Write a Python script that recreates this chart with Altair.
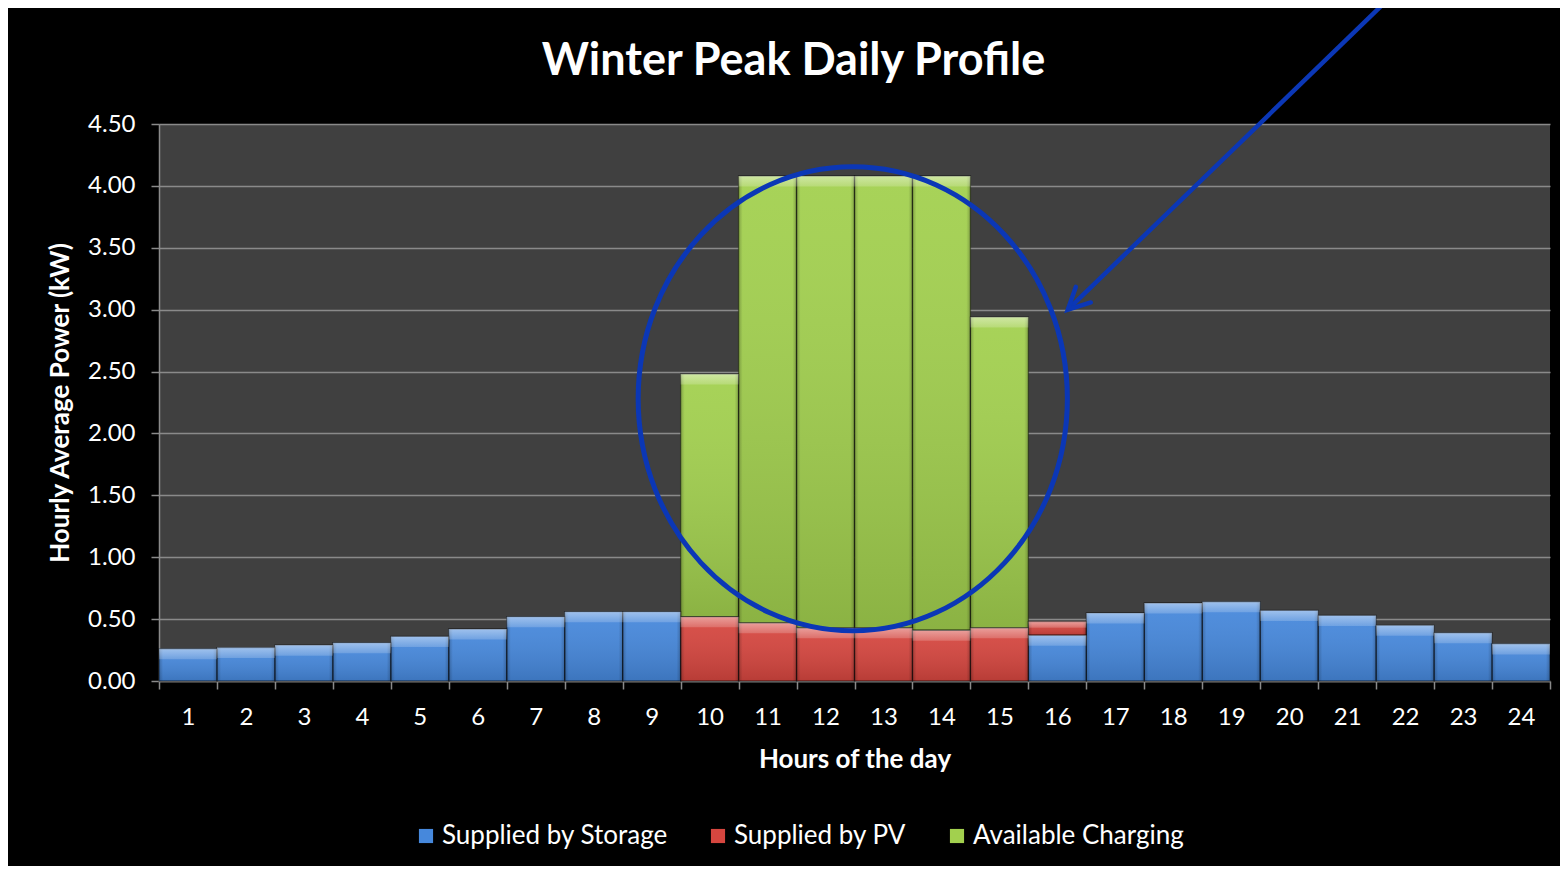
import altair as alt
import pandas as pd

# ---------------- data ----------------
hours = [1, 2, 3, 4, 5, 6, 7, 8, 9, 10, 11, 12,
         13, 14, 15, 16, 17, 18, 19, 20, 21, 22, 23, 24]
storage = [0.26, 0.27, 0.29, 0.31, 0.36, 0.42, 0.52, 0.56, 0.56, 0.00, 0.00, 0.00,
           0.00, 0.00, 0.00, 0.37, 0.55, 0.63, 0.64, 0.57, 0.53, 0.45, 0.39, 0.30]
pv = [0.00, 0.00, 0.00, 0.00, 0.00, 0.00, 0.00, 0.00, 0.00, 0.52, 0.47, 0.43,
      0.43, 0.41, 0.43, 0.11, 0.00, 0.00, 0.00, 0.00, 0.00, 0.00, 0.00, 0.00]
charging = [0.00, 0.00, 0.00, 0.00, 0.00, 0.00, 0.00, 0.00, 0.00, 1.96, 3.61, 3.65,
            3.65, 3.67, 2.51, 0.00, 0.00, 0.00, 0.00, 0.00, 0.00, 0.00, 0.00, 0.00]
series = ["Supplied by Storage", "Supplied by PV", "Available Charging"]
series_colors = ["#4688dc", "#d6463f", "#a2d04e"]
y_ticks = [0.0, 0.5, 1.0, 1.5, 2.0, 2.5, 3.0, 3.5, 4.0, 4.5]

# annotation (blue ellipse and arrow), in data units (hour, kW)
circle_hour = [12.47]
circle_kw = [2.28]
arrow_from_hour = [21.69]
arrow_from_kw = [5.50]
arrow_to_hour = [16.18]
arrow_to_kw = [3.00]

FONT = "Lato"
ANNOT = "#0b37b6"
GRID = "#8a8a8a"

df = pd.DataFrame({"hour": hours, series[0]: storage, series[1]: pv, series[2]: charging})
annot_circle = pd.DataFrame({"h": circle_hour, "k": circle_kw})
annot_arrow = pd.DataFrame({"h0": arrow_from_hour, "k0": arrow_from_kw,
                            "h1": arrow_to_hour, "k1": arrow_to_kw})

order_expr = "indexof(" + str(series) + ", datum.series)"

base = (
    alt.Chart(df)
    .transform_fold(series, as_=["series", "value"])
    .transform_calculate(order=order_expr)
    .transform_stack(stack="value", groupby=["hour"], as_=["v0", "v1"],
                     sort=[alt.SortField("order", order="ascending")])
    .transform_filter("datum.value > 0")
)

yscale = alt.Scale(domain=[0, 4.5], zero=True, nice=False)
xscale = alt.Scale(paddingInner=0, paddingOuter=0)

main = base.mark_bar(cornerRadius=0).encode(
    x=alt.X("hour:O", scale=xscale, sort=hours,
            axis=alt.Axis(title="Hours of the day", labelAngle=0, tickBand="extent",
                          labelFont=FONT, labelFontSize=24, labelColor="white",
                          labelPadding=16, tickSize=8, tickColor=GRID, tickWidth=1.5,
                          domainColor=GRID, domainWidth=1.5, grid=False,
                          titleFont=FONT, titleFontSize=26, titleFontWeight="bold",
                          titleColor="white", titlePadding=17)),
    y=alt.Y("v1:Q", scale=yscale,
            axis=alt.Axis(title="Hourly Average Power (kW)", values=y_ticks, format=".2f",
                          labelFont=FONT, labelFontSize=24, labelColor="white",
                          labelPadding=16, tickSize=8, tickColor=GRID, tickWidth=1.5,
                          domainColor=GRID, domainWidth=1.5,
                          grid=True, gridColor=GRID, gridWidth=1.5,
                          titleFont=FONT, titleFontSize=26, titleFontWeight="bold",
                          titleColor="white", titlePadding=14)),
    y2="v0:Q",
    color=alt.Color("series:N", scale=alt.Scale(domain=series, range=series_colors),
                    legend=alt.Legend(title=None, orient="none", direction="horizontal",
                                      legendX=254, legendY=699,
                                      symbolType="square", symbolSize=200,
                                      symbolStrokeWidth=0, labelFont=FONT,
                                      labelFontSize=26, labelColor="white",
                                      labelLimit=600, labelOffset=3, columnPadding=37)),
    order=alt.Order("order:Q"),
)

sheen = base.mark_bar(
    fill=alt.Gradient(gradient="linear", x1=0, y1=0, x2=0, y2=1,
                      stops=[alt.GradientStop(color="rgba(255,255,255,0.06)", offset=0),
                             alt.GradientStop(color="rgba(0,0,0,0.14)", offset=1)]),
    stroke="rgba(0,0,0,0.45)", strokeWidth=1.3,
).encode(
    x=alt.X("hour:O", scale=xscale, sort=hours, axis=None),
    y=alt.Y("v1:Q", scale=yscale, axis=None),
    y2="v0:Q",
)

edges = base.mark_bar(
    fill=alt.Gradient(gradient="linear", x1=0, y1=0, x2=1, y2=0,
                      stops=[alt.GradientStop(color="rgba(0,0,0,0.22)", offset=0),
                             alt.GradientStop(color="rgba(0,0,0,0)", offset=0.07),
                             alt.GradientStop(color="rgba(0,0,0,0)", offset=0.93),
                             alt.GradientStop(color="rgba(0,0,0,0.22)", offset=1)]),
).encode(
    x=alt.X("hour:O", scale=xscale, sort=hours, axis=None),
    y=alt.Y("v1:Q", scale=yscale, axis=None),
    y2="v0:Q",
)

cap = base.transform_calculate(
    capb="datum.v1 - min(0.085, (datum.v1 - datum.v0) * 0.45)"
).mark_bar(
    fill=alt.Gradient(gradient="linear", x1=0, y1=0, x2=0, y2=1,
                      stops=[alt.GradientStop(color="rgba(255,255,255,0.45)", offset=0),
                             alt.GradientStop(color="rgba(255,255,255,0.18)", offset=1)]),
).encode(
    x=alt.X("hour:O", scale=xscale, sort=hours, axis=None),
    y=alt.Y("v1:Q", scale=yscale, axis=None),
    y2="capb:Q",
)

qx = alt.Scale(domain=[0.5, 24.5], nice=False, zero=False)
qy = alt.Scale(domain=[0, 4.5], nice=False, zero=True)

ellipse_path = "M -0.925,0 A 0.925,1 0 1,0 0.925,0 A 0.925,1 0 1,0 -0.925,0 Z"
circle = alt.Chart(annot_circle).mark_point(
    shape=ellipse_path, size=464 * 464, filled=False, stroke=ANNOT, strokeWidth=5,
    opacity=1,
).encode(
    x=alt.X("h:Q", scale=qx, axis=None),
    y=alt.Y("k:Q", scale=qy, axis=None),
)

arrow_line = alt.Chart(annot_arrow).mark_rule(stroke=ANNOT, strokeWidth=4.5).encode(
    x=alt.X("h0:Q", scale=qx, axis=None),
    y=alt.Y("k0:Q", scale=qy, axis=None),
    x2="h1:Q",
    y2="k1:Q",
)

arrow_head = alt.Chart(annot_arrow).mark_point(
    shape="M -0.45,0.9 L 0,0 L 0.45,0.9", size=2300, angle=226, filled=False,
    stroke=ANNOT, strokeWidth=4.5, opacity=1, strokeCap="round", strokeJoin="miter",
).encode(
    x=alt.X("h1:Q", scale=qx, axis=None),
    y=alt.Y("k1:Q", scale=qy, axis=None),
)

chart = (
    alt.layer(main, sheen, edges, cap, circle, arrow_line, arrow_head)
    .resolve_scale(x="independent", y="independent")
    .properties(
        width=1391, height=557,
        title=alt.TitleParams("Winter Peak Daily Profile", font=FONT, fontSize=45,
                              fontWeight="bold", color="white", anchor="middle",
                              offset=-86, dx=-61),
        background="black",
        padding={"left": 151, "top": 116, "right": 10, "bottom": 185},
        autosize=alt.AutoSizeParams(type="none"),
    )
    .configure_view(fill="#404040", stroke=None)
)

chart.save("out.html", embed_options={"renderer": "svg", "actions": False})
